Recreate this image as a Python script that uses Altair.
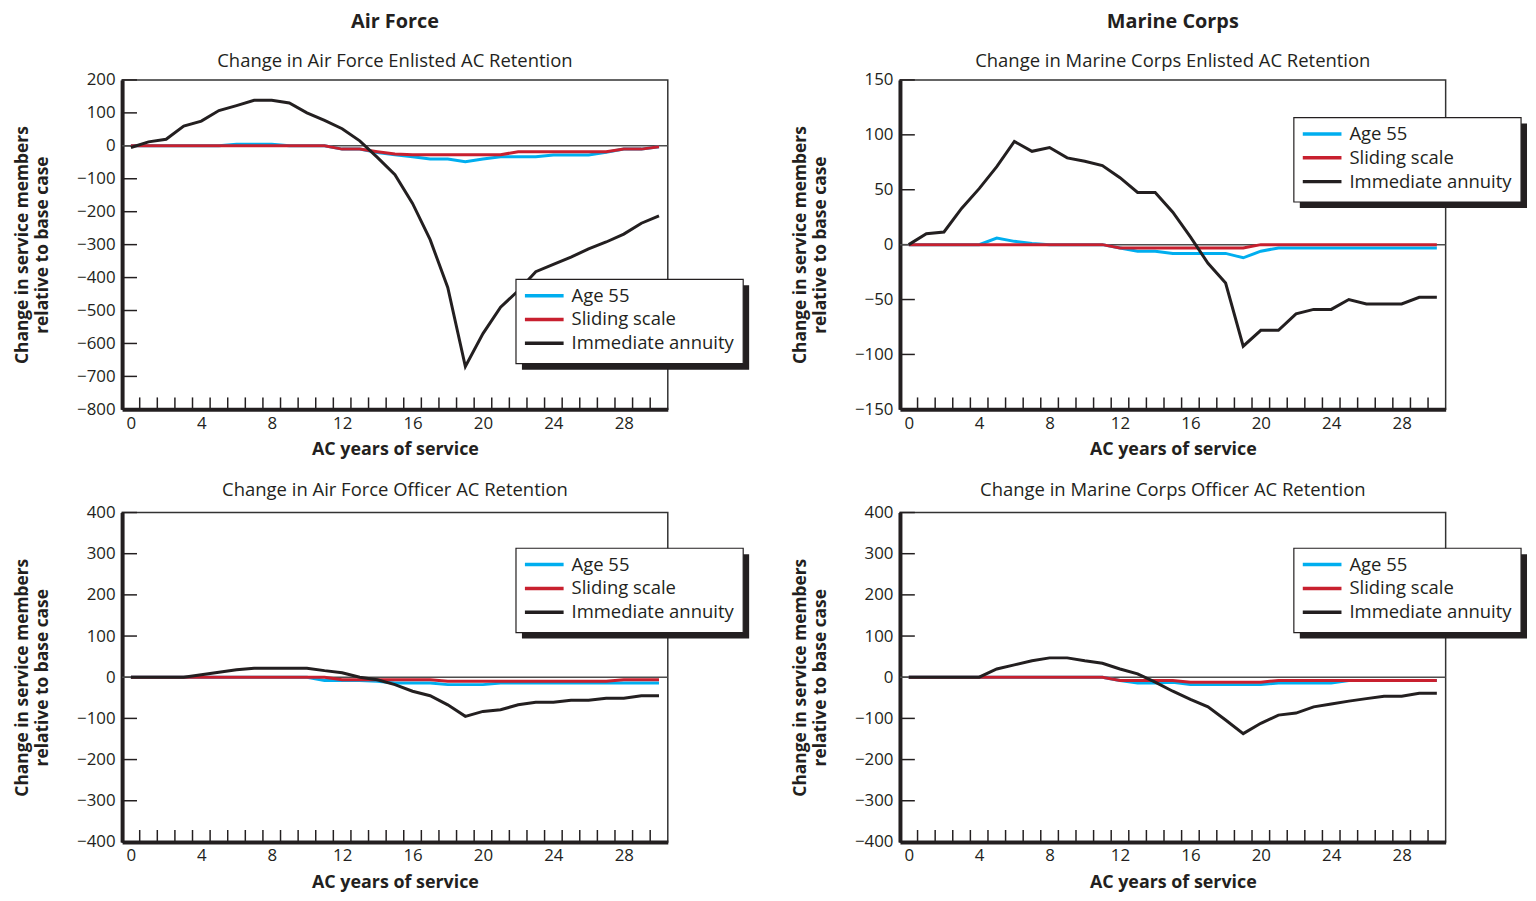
import altair as alt
import pandas as pd

FONT = "Open Sans"
INK = "#231f20"

years = list(range(31))
series_names = ["Age 55", "Sliding scale", "Immediate annuity"]
series_colors = ["#00aeef", "#c8202f", "#231f20"]
column_titles = ["Air Force", "Marine Corps"]
panel_titles = [
    "Change in Air Force Enlisted AC Retention",
    "Change in Marine Corps Enlisted AC Retention",
    "Change in Air Force Officer AC Retention",
    "Change in Marine Corps Officer AC Retention",
]
x_title = "AC years of service"
y_title = ["Change in service members", "relative to base case"]
x_labels = [0, 4, 8, 12, 16, 20, 24, 28]
x_minor = [i + 0.5 for i in range(30)]

# Air Force enlisted
af_enl_age55 = [0, 0, 0, 0, 0, 0, 5, 5, 5, 0, 0, 0, -10, -10, -20, -27, -33, -40, -40, -48,
                -40, -33, -33, -33, -28, -28, -28, -20, -10, -10, -3]
af_enl_slide = [0, 0, 0, 0, 0, 0, 0, 0, 0, 0, 0, 0, -10, -10, -18, -25, -27, -27, -27, -27,
                -27, -27, -18, -18, -18, -18, -18, -18, -10, -10, -3]
af_enl_imm = [-5, 12, 20, 60, 75, 107, 122, 138, 138, 130, 100, 77, 52, 15, -35, -88, -175,
              -285, -430, -670, -570, -490, -440, -382, -360, -338, -313, -292, -268, -235, -213]
af_enl_yticks = [-800, -700, -600, -500, -400, -300, -200, -100, 0, 100, 200]

# Marine Corps enlisted
mc_enl_age55 = [0, 0, 0, 0, 0, 6, 3, 1, 0, 0, 0, 0, -3, -6, -6, -8, -8, -8, -8, -12,
                -6, -3, -3, -3, -3, -3, -3, -3, -3, -3, -3]
mc_enl_slide = [0, 0, 0, 0, 0, 0, 0, 0, 0, 0, 0, 0, -3, -3, -3, -3, -3, -3, -3, -3,
                0, 0, 0, 0, 0, 0, 0, 0, 0, 0, 0]
mc_enl_imm = [0, 10, 11.5, 33, 51, 71, 94, 85, 88.5, 79, 76, 72, 61, 47.5, 47.5, 29.5, 7,
              -17, -35, -92.5, -78, -78, -63, -59, -59, -50, -54, -54, -54, -48, -48]
mc_enl_yticks = [-150, -100, -50, 0, 50, 100, 150]

# Air Force officer
af_off_age55 = [0, 0, 0, 0, 0, 0, 0, 0, 0, 0, 0, -8, -8, -8, -10, -14, -14, -14, -18, -18,
                -18, -14, -14, -14, -14, -14, -14, -14, -14, -14, -14]
af_off_slide = [0, 0, 0, 0, 0, 0, 0, 0, 0, 0, 0, 0, -6, -6, -6, -6, -6, -6, -10, -10,
                -10, -10, -10, -10, -10, -10, -10, -10, -6, -6, -6]
af_off_imm = [0, 0, 0, 0, 6, 12, 18, 22, 22, 22, 22, 16, 11, 0, -6, -18, -34, -45, -67, -95,
              -83, -79, -67, -61, -61, -56, -56, -51, -51, -45, -45]
off_yticks = [-400, -300, -200, -100, 0, 100, 200, 300, 400]

# Marine Corps officer
mc_off_age55 = [0, 0, 0, 0, 0, 0, 0, 0, 0, 0, 0, 0, -8, -14, -14, -12, -18, -18, -18, -18,
                -18, -14, -14, -14, -14, -8, -8, -8, -8, -8, -8]
mc_off_slide = [0, 0, 0, 0, 0, 0, 0, 0, 0, 0, 0, 0, -8, -8, -8, -8, -12, -12, -12, -12,
                -12, -8, -8, -8, -8, -8, -8, -8, -8, -8, -8]
mc_off_imm = [0, 0, 0, 0, 0, 20, 30, 40, 47, 47, 40, 34, 20, 8, -12, -34, -54, -72, -104, -137,
              -112, -92, -87, -72, -65, -58, -52, -46, -46, -39, -39]

W, H = 550, 332
LEG_LEFT, LEG_W, LEG_H, SHADOW = 397, 229, 85, 6
TXT = 18.6

panels = [
    dict(title=panel_titles[0], sub=column_titles[0], series=[af_enl_age55, af_enl_slide, af_enl_imm],
         ydom=[-800, 200], yticks=af_enl_yticks, leg_top=201),
    dict(title=panel_titles[1], sub=column_titles[1], series=[mc_enl_age55, mc_enl_slide, mc_enl_imm],
         ydom=[-150, 150], yticks=mc_enl_yticks, leg_top=38),
    dict(title=panel_titles[2], sub=None, series=[af_off_age55, af_off_slide, af_off_imm],
         ydom=[-400, 400], yticks=off_yticks, leg_top=36),
    dict(title=panel_titles[3], sub=None, series=[mc_off_age55, mc_off_slide, mc_off_imm],
         ydom=[-400, 400], yticks=off_yticks, leg_top=36),
]

one_row = pd.DataFrame({"k": [0]})


def make_panel(p):
    xs = alt.Scale(domain=[-0.5, 30.5], nice=False, zero=False)
    ys = alt.Scale(domain=p["ydom"], nice=False, zero=False)
    x_enc = alt.X("year:Q", scale=xs, axis=alt.Axis(
        values=x_labels, ticks=False, grid=False, domainWidth=4, domainColor=INK,
        labelFontSize=17, labelPadding=6, labelFlush=False, title=x_title,
        titleFontSize=18, titleFontWeight="bold", titlePadding=10))
    y_enc = alt.Y("value:Q", scale=ys, axis=alt.Axis(
        values=p["yticks"], ticks=False, grid=False, domainWidth=4, domainColor=INK,
        labelFontSize=17, labelPadding=7, labelFlush=False,
        labelExpr="replace(datum.label, '-', '\u2212')",
        title=y_title, titleFontSize=17.5, titleFontWeight="bold", titlePadding=25,
        titleLineHeight=20))

    layers = []
    layers.append(alt.Chart(pd.DataFrame({"value": p["yticks"]})).mark_rule(
        color=INK, strokeWidth=1.5).encode(y=y_enc, x=alt.value(0), x2=alt.value(15)))
    layers.append(alt.Chart(pd.DataFrame({"year": x_minor})).mark_rule(
        color=INK, strokeWidth=1.5).encode(x=x_enc, y=alt.value(H), y2=alt.value(H - 12)))
    layers.append(alt.Chart(pd.DataFrame({"value": [0]})).mark_rule(
        color="#4d4d4d", strokeWidth=1.5).encode(y=y_enc))
    for vals, col in zip(p["series"], series_colors):
        df = pd.DataFrame({"year": years, "value": vals})
        layers.append(alt.Chart(df).mark_line(color=col, strokeWidth=3).encode(x=x_enc, y=y_enc))
    t = p["leg_top"]
    layers.append(alt.Chart(one_row).mark_rect(fill=INK).encode(
        x=alt.value(LEG_LEFT + SHADOW), x2=alt.value(LEG_LEFT + LEG_W + SHADOW),
        y=alt.value(t + SHADOW), y2=alt.value(t + LEG_H + SHADOW)))
    layers.append(alt.Chart(one_row).mark_rect(fill="white", stroke=INK, strokeWidth=1.2).encode(
        x=alt.value(LEG_LEFT), x2=alt.value(LEG_LEFT + LEG_W),
        y=alt.value(t), y2=alt.value(t + LEG_H)))
    for i, (name, col) in enumerate(zip(series_names, series_colors)):
        yy = t + 16.5 + 24 * i
        layers.append(alt.Chart(one_row).mark_rule(color=col, strokeWidth=3.5).encode(
            x=alt.value(LEG_LEFT + 9), x2=alt.value(LEG_LEFT + 48), y=alt.value(yy)))
        layers.append(alt.Chart(one_row).mark_text(
            text=name, align="left", baseline="middle", fontSize=TXT, font=FONT, color=INK).encode(
            x=alt.value(LEG_LEFT + 56), y=alt.value(yy)))

    if p["sub"]:
        title = alt.TitleParams(text=p["sub"], subtitle=p["title"], fontSize=20, fontWeight="bold",
                                subtitleFontSize=TXT, subtitleFontWeight="normal", subtitleColor=INK,
                                subtitleFont=FONT, subtitlePadding=21, anchor="middle", frame="group",
                                offset=0, color=INK, font=FONT)
    else:
        title = alt.TitleParams(text=p["title"], fontSize=TXT, fontWeight="normal", anchor="middle",
                                frame="group", offset=4, color=INK, font=FONT)
    return alt.layer(*layers).properties(width=W, height=H, title=title)


chart = alt.concat(*[make_panel(p) for p in panels], columns=2,
                   spacing={"row": 104, "column": 234}, bounds="flush").resolve_scale(
    x="independent", y="independent"
).properties(padding={"left": 5, "top": -1, "right": 0, "bottom": 0}).configure_view(
    stroke="#333333", strokeWidth=1.5
).configure_axis(
    labelFont=FONT, titleFont=FONT, labelColor=INK, titleColor=INK
)

chart.save("out.html", embed_options={"renderer": "svg", "actions": False})
